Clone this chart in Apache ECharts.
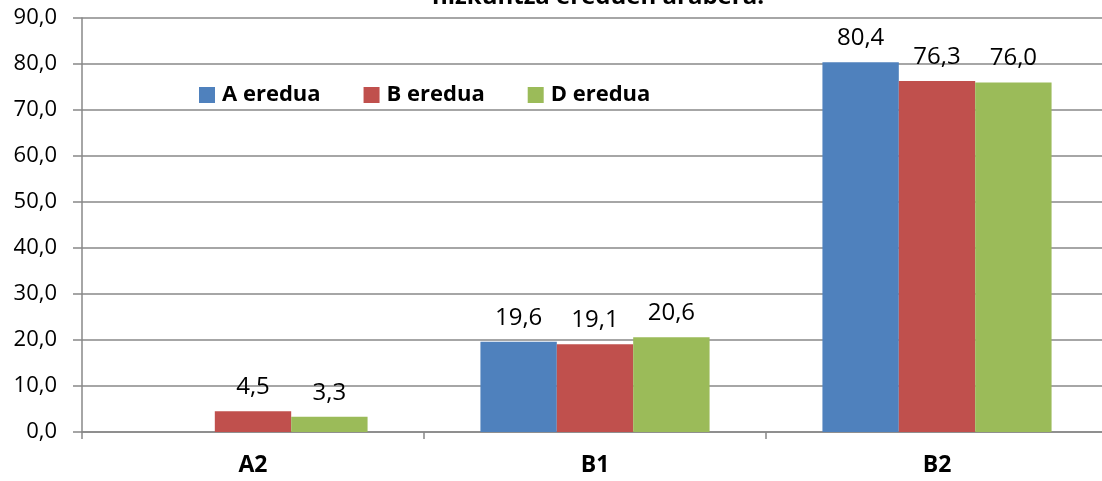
<!DOCTYPE html>
<html><head><meta charset="utf-8">
<script src="https://cdn.jsdelivr.net/npm/echarts@6/dist/echarts.min.js"></script>
<style>html,body{margin:0;padding:0;background:#fff;overflow:hidden;width:1102px;height:481px}#c{width:1108px;height:481px}</style>
</head><body><div id="c"></div>
<script>
const categories = ['A2', 'B1', 'B2'];
const seriesNames = ['A eredua', 'B eredua', 'D eredua'];
const valuesA = [null, 19.6, 80.4];
const valuesB = [4.5, 19.1, 76.3];
const valuesD = [3.3, 20.6, 76.0];
const titleText = 'hizkuntza ereduen arabera.';
const colors = ['#4F81BD', '#C0504D', '#9BBB59'];
const FONT = '"Open Sans", "Noto Sans", sans-serif';

const chart = echarts.init(document.getElementById('c'), null, {renderer: 'canvas'});
const fmt = v => v.toFixed(1).replace('.', ',');
const mk = (name, data, i) => ({
  name, type: 'bar', data,
  barGap: '0%', barCategoryGap: '33%',
  itemStyle: {color: colors[i]},
  label: {show: true, position: 'top', distance: 12, fontFamily: FONT, fontSize: 24, color: '#000',
          formatter: p => p.value == null ? '' : fmt(p.value)}
});
chart.setOption({
  animation: false,
  graphic: [{type: 'text', x: 598, y: 9,
    style: {text: titleText, textAlign: 'center', textVerticalAlign: 'bottom',
            fontFamily: FONT, fontWeight: 'bold', fontSize: 24, fill: '#000'}}],
  legend: {
    left: 194, top: 79, itemWidth: 16, itemHeight: 16, itemGap: 43,
    icon: 'rect',
    textStyle: {fontFamily: FONT, fontWeight: 'bold', fontSize: 22, color: '#000', padding: [0, 0, 0, 2]},
    data: seriesNames
  },
  grid: {left: 82, right: 0, top: 18, bottom: 49, containLabel: false},
  xAxis: {
    type: 'category', data: categories,
    axisLine: {lineStyle: {color: '#888', width: 1.5}},
    axisTick: {show: true, length: 7, lineStyle: {color: '#888', width: 1.5}},
    axisLabel: {fontFamily: FONT, fontWeight: 'bold', fontSize: 23, color: '#000', margin: 22}
  },
  yAxis: {
    type: 'value', min: 0, max: 90, interval: 10,
    axisLine: {show: true, lineStyle: {color: '#888', width: 1.5}},
    axisTick: {show: true, length: 9, lineStyle: {color: '#888', width: 1.5}},
    splitLine: {lineStyle: {color: '#888', width: 1.5}},
    axisLabel: {fontFamily: FONT, fontSize: 22, color: '#000', margin: 25, formatter: v => fmt(v)}
  },
  series: [mk(seriesNames[0], valuesA, 0), mk(seriesNames[1], valuesB, 1), mk(seriesNames[2], valuesD, 2)]
});
</script></body></html>
